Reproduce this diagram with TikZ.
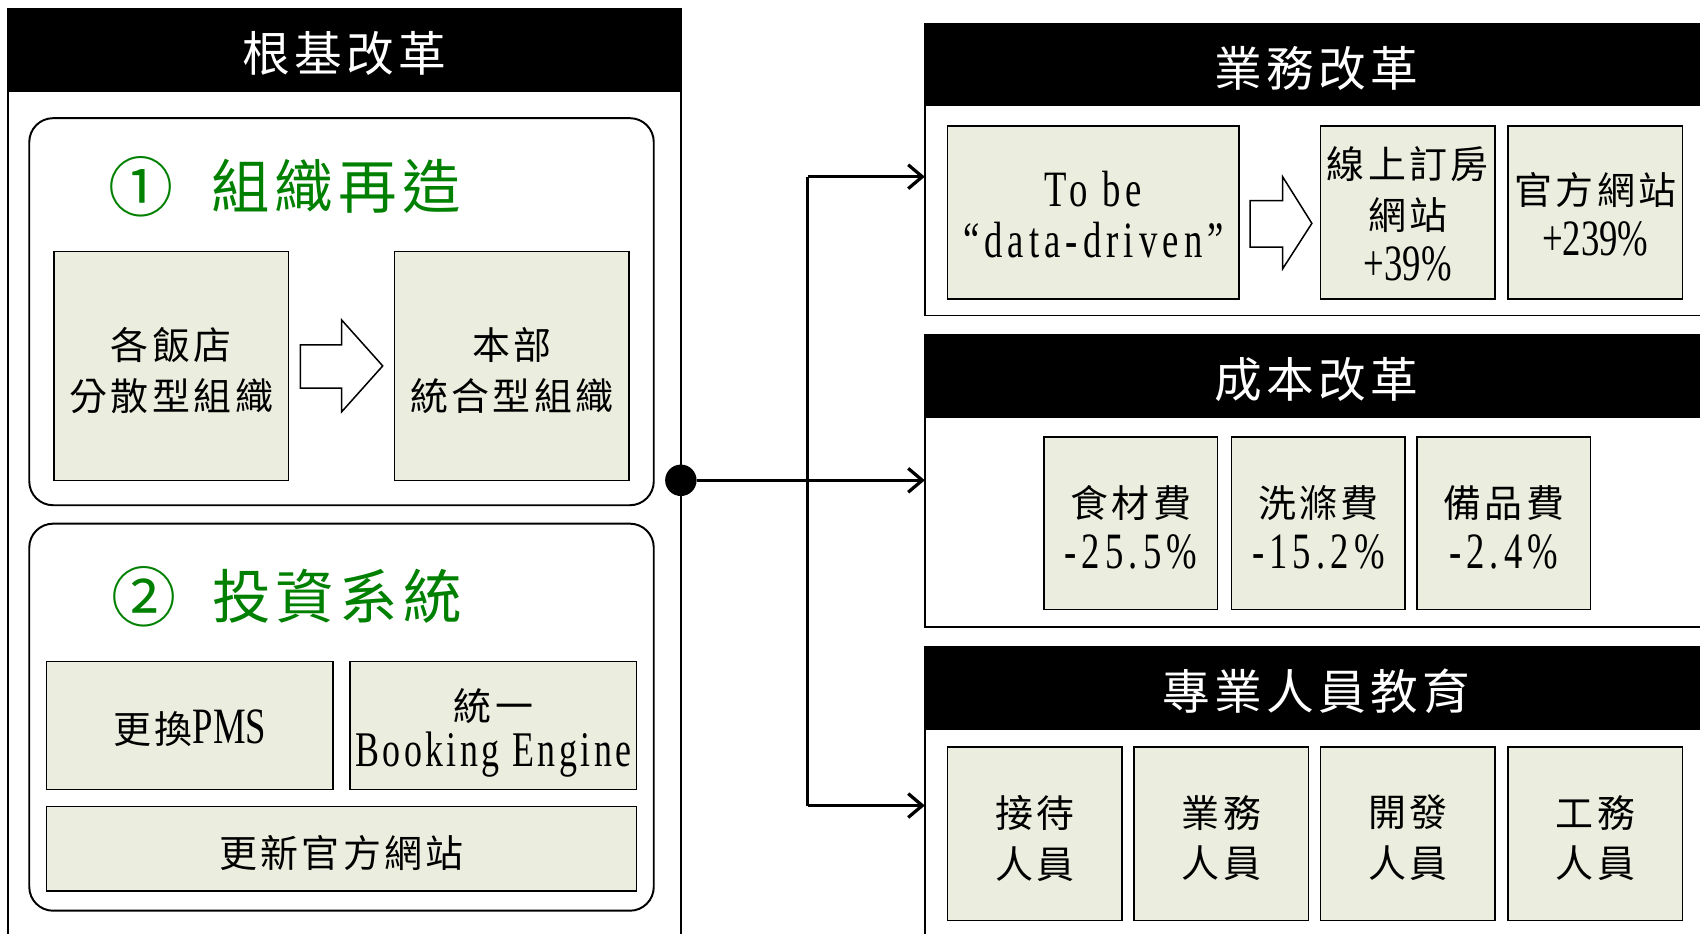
\documentclass[tikz,border=0pt]{standalone}
\usepackage{fontspec}
\usetikzlibrary{arrows.meta}
\newfontfamily\cjk{Noto Sans CJK TC}
\newfontfamily\cjkls[LetterSpace=9]{Noto Sans CJK TC}
\newfontfamily\latn[FakeStretch=0.72]{Liberation Serif}
\newfontfamily\latnw[FakeStretch=0.72,LetterSpace=10]{Liberation Serif}
\newfontfamily\latnm[FakeStretch=0.72,LetterSpace=7]{Liberation Serif}
\definecolor{cellfill}{RGB}{235,238,222}
\definecolor{titlegreen}{RGB}{0,128,0}
\newcommand{\cellfont}{\cjkls\fontsize{35}{47}\selectfont}
\newcommand{\hdrfont}{\cjkls\fontsize{44}{50}\selectfont}
\newcommand{\grnfont}{\cjkls\fontsize{54}{60}\selectfont}
\newcommand{\Lt}[1]{{\latn\fontsize{47}{47}\selectfont #1}}
\newcommand{\Ltw}[1]{{\latnw\fontsize{47}{47}\selectfont #1}}
\newcommand{\Ltm}[1]{{\latnm\fontsize{46}{47}\selectfont #1}}
\tikzset{
  panel/.style={draw=black, line width=1.8pt, inner sep=0pt, outer sep=0pt},
  hdr/.style={draw=black, fill=black, line width=1.8pt, inner sep=0pt, outer sep=0pt},
  hdrtext/.style={text=white, inner sep=0pt, font=\hdrfont},
  rbox/.style={draw=black, rounded corners=22pt, line width=1.8pt, inner sep=0pt, outer sep=0pt},
  cell/.style={draw=black, fill=cellfill, line width=1.4pt, inner sep=0pt, outer sep=0pt},
  ctext/.style={align=center, inner sep=0pt, font=\cellfont},
  grn/.style={text=titlegreen, inner sep=0pt, font=\grnfont},
  grnnum/.style={text=titlegreen, inner sep=0pt, font=\cjk\fontsize{60}{60}\selectfont},
  blockarrow/.style={draw=black, fill=white, line width=1.4pt, line join=miter},
  conn/.style={draw=black, line width=3pt, -{Straight Barb[length=13pt,width=22pt,line width=3pt]}},
  dot/.style={circle, fill=black, minimum size=29pt, inner sep=0pt}
}
% \Cell[text shift]{name}{x}{y}{w}{h}{text}
\newcommand{\Cell}[7][-4pt]{%
  \node[cell, minimum width=#5pt, minimum height=#6pt] (#2) at (#3,#4) {};
  \node[ctext] (#2-t) at ([yshift=#1]#2.center) {#7};}
% \Hdr{name}{x}{y}{w}{h}{text}
\newcommand{\Hdr}[6]{%
  \node[hdr, minimum width=#4pt, minimum height=#5pt] (#1) at (#2,#3) {};
  \node[hdrtext] (#1-t) at ([yshift=-3.5pt]#1.center) {#6};}
\begin{document}
\begin{tikzpicture}[x=1pt,y=-1pt]
\useasboundingbox (0,0) rectangle (1568,860.6);
\clip (0,0) rectangle (1568,860.6);
\fill[white] (0,0) rectangle (1568,860.6);

% ---------- left panel ----------
\node[panel, minimum width=621pt, minimum height=892pt] (L) at (317.5,454) {};
\Hdr{Lh}{317.5}{46}{621}{76}{根基改革}

\node[rbox, minimum width=576pt, minimum height=357pt] (B1) at (315,287.5) {};
\node[grnnum] (n1) at (130,172) {①};
\node[grn] (t1) at (310,172) {組織再造};
\Cell{A}{158}{337.5}{216}{211}{各飯店\\分散型組織}
\Cell{Bx}{472}{337.5}{216}{211}{本部\\統合型組織}
\draw[blockarrow] (277,318) -- (315,318) -- (315,295) -- (353,337.5) -- (315,380) -- (315,358) -- (277,358) -- cycle;

\node[rbox, minimum width=576pt, minimum height=357pt] (B2) at (315,661.5) {};
\node[grnnum] (n2) at (133,550) {②};
\node[grn] (t2) at (311,550) {投資系統};
\Cell[-3pt]{pms}{175}{669}{264}{118}{更換\Lt{PMS}}
\Cell[-7pt]{be}{455}{669}{264}{118}{統一\\[-4pt]\Ltm{Booking Engine}}
\Cell{web}{315}{783}{544}{78}{更新官方網站}

% ---------- right panels ----------
\node[panel, minimum width=722pt, minimum height=269pt] (P1) at (1214,156.5) {};
\Hdr{P1h}{1214}{59.5}{722}{75}{業務改革}
\Cell[-2pt]{tobe}{1008.5}{196}{269}{160}{\Ltw{To be}\\\Ltw{“data-driven”}}
\draw[blockarrow] (1153,185) -- (1183,185) -- (1183,163) -- (1210,206) -- (1183,248) -- (1183,228) -- (1153,228) -- cycle;
\Cell[-1.5pt]{online}{1298.5}{196}{161}{160}{線上訂房\\網站\\\Lt{+39\%}}
\Cell[-2pt]{offi}{1471.5}{196}{161}{160}{官方網站\\\Lt{+239\%}}

\node[panel, minimum width=722pt, minimum height=269pt] (P2) at (1214,443.5) {};
\Hdr{P2h}{1214}{347}{722}{76}{成本改革}
\Cell{c1}{1043}{482.5}{160}{159}{食材費\\\Ltw{-25.5\%}}
\Cell{c2}{1216}{482.5}{160}{159}{洗滌費\\\Ltw{-15.2\%}}
\Cell{c3}{1387}{482.5}{160}{159}{備品費\\\Ltw{-2.4\%}}

\node[panel, minimum width=722pt, minimum height=303pt] (P3) at (1214,748.5) {};
\Hdr{P3h}{1214}{634.5}{722}{75}{專業人員教育}
\Cell{e1}{954.5}{769}{161}{160}{接待\\人員}
\Cell{e2}{1126.5}{769}{161}{160}{業務\\人員}
\Cell{e3}{1298.5}{769}{161}{160}{開發\\人員}
\Cell{e4}{1471.5}{769}{161}{160}{工務\\人員}

% ---------- connectors ----------
\node[dot] (hub) at (628,443) {};
\coordinate (j1) at (745,163);
\coordinate (j3) at (745,743);
\draw[line width=3pt] (j1) -- (j3);
\draw[conn] (hub) -- (hub -| P2.west);
\draw[conn] (j1) -- (j1 -| P1.west);
\draw[conn] (j3) -- (j3 -| P3.west);
\end{tikzpicture}
\end{document}
